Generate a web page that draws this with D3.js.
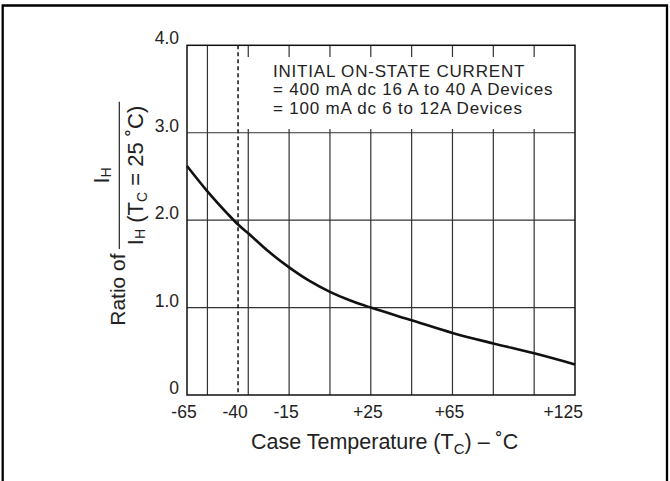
<!DOCTYPE html>
<html>
<head>
<meta charset="utf-8">
<script src="https://cdn.jsdelivr.net/npm/d3@7"></script>
<style>
  html, body { margin: 0; padding: 0; background: #fff; }
  svg { display: block; }
  text { font-family: "Liberation Sans", Arial, Helvetica, sans-serif; fill: #222; }
</style>
</head>
<body>
<svg id="chart" width="670" height="481"></svg>
<script>
// ---- data ----
const temps  = [-65, -55, -45, -40, -35, -25, -15, -5, 5, 15, 25, 45, 65, 85, 105, 125];
const ratios = [2.62, 2.33, 2.07, 1.95, 1.85, 1.64, 1.46, 1.305, 1.18, 1.08, 1.0, 0.855, 0.71, 0.59, 0.477, 0.35];
const xTickValues = [-65, -40, -15, 25, 65, 125];
const xTickLabels = ["-65", "-40", "-15", "+25", "+65", "+125"];
const xGridValues = [-55, -35, -15, 5, 25, 45, 65, 85, 105];
const yTickValues = [0, 1, 2, 3, 4];
const yTickLabels = ["0", "1.0", "2.0", "3.0", "4.0"];
const yGridValues = [1, 2, 3];
const dashedTemp = -40;
const noteLines = [
  "INITIAL ON-STATE CURRENT",
  "= 400 mA dc 16 A to 40 A Devices",
  "= 100 mA dc 6 to 12A Devices"
];

// ---- layout ----
const svg = d3.select("#chart");
const L = 187, R = 575, T = 45.3, B = 395;
const x = d3.scaleLinear().domain([-65, 125]).range([L, R]);
const y = d3.scaleLinear().domain([0, 4]).range([B, T]);

// outer frame
svg.append("path")
  .attr("d", `M2.7,490 V5.5 H667 V490`)
  .attr("fill", "none").attr("stroke", "#000").attr("stroke-width", 2.3);

const grid = svg.append("g").attr("stroke", "#333").attr("stroke-width", 1.2);
grid.selectAll("line.v").data(xGridValues).join("line")
  .attr("x1", d => x(d)).attr("x2", d => x(d))
  .attr("y1", T).attr("y2", B);
grid.selectAll("line.h").data(yGridValues).join("line")
  .attr("x1", L).attr("x2", R)
  .attr("y1", d => y(d)).attr("y2", d => y(d));

// white note box (interrupts gridlines)
svg.append("rect")
  .attr("x", x(-38)).attr("y", 57)
  .attr("width", R - 1 - x(-38)).attr("height", 72)
  .attr("fill", "#fff");

// dashed line
svg.append("line")
  .attr("x1", x(dashedTemp)).attr("x2", x(dashedTemp))
  .attr("y1", T).attr("y2", B)
  .attr("stroke", "#111").attr("stroke-width", 1.5)
  .attr("stroke-dasharray", "4,3");

// plot border
svg.append("rect")
  .attr("x", L).attr("y", T).attr("width", R - L).attr("height", B - T)
  .attr("fill", "none").attr("stroke", "#111").attr("stroke-width", 1.5);

// curve
const pts = temps.map((t, i) => [t, ratios[i]]);
svg.append("path")
  .datum(pts)
  .attr("d", d3.line().x(d => x(d[0])).y(d => y(d[1])).curve(d3.curveCatmullRom.alpha(0.5)))
  .attr("fill", "none").attr("stroke", "#111").attr("stroke-width", 2.6);

// y tick labels
svg.append("g").selectAll("text").data(yTickValues).join("text")
  .attr("x", L - 8).attr("y", d => y(d) - 1)
  .attr("text-anchor", "end").attr("font-size", 17.5)
  .text((d, i) => yTickLabels[i]);

// x tick labels
svg.append("g").selectAll("text").data(xTickValues).join("text")
  .attr("x", (d, i) => i === xTickValues.length - 1 ? x(d) + 8 : x(d) - 3)
  .attr("y", B + 23)
  .attr("text-anchor", (d, i) => i === xTickValues.length - 1 ? "end" : "middle")
  .attr("font-size", 17.5)
  .text((d, i) => xTickLabels[i]);

// note text
svg.append("g").selectAll("text").data(noteLines).join("text")
  .attr("x", 273).attr("y", (d, i) => 76.5 + i * 18.6)
  .attr("font-size", 17)
  .attr("letter-spacing", 0.8)
  .text(d => d);

// x axis title
const xt = svg.append("text")
  .attr("x", 384.6).attr("y", 449)
  .attr("text-anchor", "middle").attr("font-size", 21.5);
xt.append("tspan").text("Case Temperature (T");
xt.append("tspan").attr("font-size", 15).attr("dy", 5).text("C");
xt.append("tspan").attr("dy", -5).text(") – ˚C");

// y axis title (rotated)
const yg = svg.append("g").attr("transform", "translate(119.3,175.4) rotate(-90)");
yg.append("line").attr("x1", -73.7).attr("x2", 73.7).attr("y1", 0).attr("y2", 0)
  .attr("stroke", "#222").attr("stroke-width", 1.2);
const num = yg.append("text").attr("x", 0).attr("y", -10)
  .attr("text-anchor", "middle").attr("font-size", 22);
num.append("tspan").text("I");
num.append("tspan").attr("font-size", 14).attr("dy", 2).text("H");
const den = yg.append("text").attr("x", 0).attr("y", 24)
  .attr("text-anchor", "middle").attr("font-size", 22);
den.append("tspan").text("I");
den.append("tspan").attr("font-size", 14).attr("dy", 2).text("H");
den.append("tspan").attr("dy", -2).text(" (T");
den.append("tspan").attr("font-size", 14).attr("dy", 4).text("C");
den.append("tspan").attr("dy", -4).text(" = 25 ˚C)");
yg.append("text").attr("x", -78).attr("y", 6)
  .attr("text-anchor", "end").attr("font-size", 21)
  .text("Ratio of");
</script>
</body>
</html>
